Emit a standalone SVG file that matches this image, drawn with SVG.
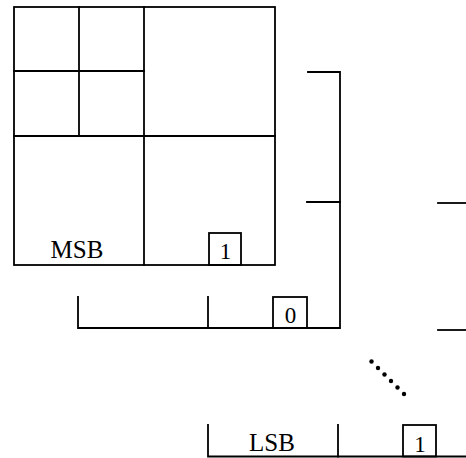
<svg xmlns="http://www.w3.org/2000/svg" width="466" height="458" viewBox="0 0 466 458">
  <style>
    .ln { fill: none; stroke: #000; stroke-width: 1.8; stroke-linecap: square; }
    .lbl { font-family: "Liberation Serif", "Times New Roman", serif; font-size: 25px; fill: #000; text-anchor: middle; }
    .bit { font-family: "Liberation Serif", "Times New Roman", serif; font-size: 23px; fill: #000; text-anchor: middle; }
  </style>
  <rect width="466" height="458" fill="#fff"/>

  <!-- top bit plane: quadtree split of the block -->
  <g id="plane-msb">
    <rect class="ln" x="14" y="7" width="261" height="258"/>
    <line class="ln" x1="144" y1="7" x2="144" y2="265"/>
    <line class="ln" x1="14" y1="136" x2="275" y2="136"/>
    <line class="ln" x1="79" y1="7" x2="79" y2="136"/>
    <line class="ln" x1="14" y1="71" x2="144" y2="71"/>
    <text class="lbl" x="77" y="258">MSB</text>
    <rect class="ln" x="209" y="233" width="32" height="32"/>
    <text class="bit" x="225.5" y="259">1</text>
  </g>

  <!-- second bit plane, seen behind the first -->
  <g id="plane-2">
    <polyline class="ln" points="78,297 78,328 340,328 340,72 308,72"/>
    <line class="ln" x1="208" y1="297" x2="208" y2="328"/>
    <line class="ln" x1="307" y1="202" x2="340" y2="202"/>
    <rect class="ln" x="273" y="297" width="34" height="31"/>
    <text class="bit" x="290.5" y="323">0</text>
  </g>

  <!-- edges of further planes to the right -->
  <g id="plane-3">
    <line class="ln" x1="438" y1="203" x2="466" y2="203"/>
    <line class="ln" x1="438" y1="330" x2="466" y2="330"/>
  </g>

  <!-- ellipsis between planes -->
  <g id="ellipsis" fill="#000">
    <circle cx="371.5" cy="361.5" r="2.2"/>
    <circle cx="378" cy="368" r="2.2"/>
    <circle cx="384.5" cy="374.5" r="2.2"/>
    <circle cx="391" cy="381" r="2.2"/>
    <circle cx="397.5" cy="387.5" r="2.2"/>
    <circle cx="404" cy="394" r="2.2"/>
  </g>

  <!-- least significant bit plane -->
  <g id="plane-lsb">
    <polyline class="ln" points="208,425 208,456.5 466,456.5"/>
    <line class="ln" x1="338" y1="425" x2="338" y2="456.5"/>
    <text class="lbl" x="272" y="451">LSB</text>
    <rect class="ln" x="403" y="425" width="33" height="31.5"/>
    <text class="bit" x="420" y="451.5">1</text>
  </g>
</svg>
